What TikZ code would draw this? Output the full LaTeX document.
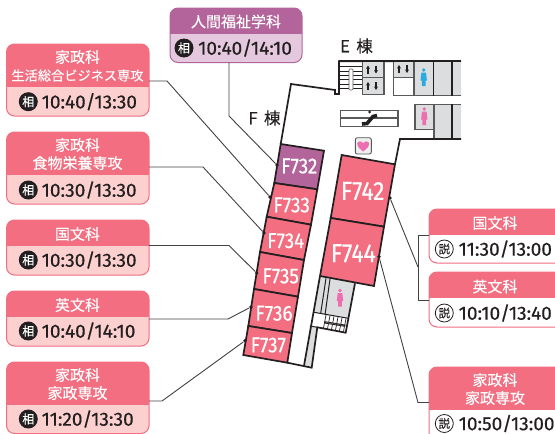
\documentclass[tikz,border=0pt]{standalone}
\usepackage{fontspec}
\usepackage{graphicx}
\setmainfont[FakeBold=0.5]{Fira Sans}
\newfontfamily\cjk[FakeBold=0.3]{Noto Sans CJK JP}
\usetikzlibrary{arrows.meta}
\definecolor{hdrpink}{HTML}{F26E80}
\definecolor{bodypink}{HTML}{FBD0CF}
\definecolor{edgepink}{HTML}{F58A98}
\definecolor{hdrplum}{HTML}{B3659B}
\definecolor{bodyplum}{HTML}{E4C8DD}
\definecolor{ink}{HTML}{231F20}
\definecolor{wallgrey}{HTML}{DCDDDE}
\definecolor{linegrey}{HTML}{58595B}
\definecolor{manblue}{HTML}{29ABE2}
\definecolor{womanpink}{HTML}{EE6FB0}
\tikzset{
 cardbox/.style={rounded corners=8pt,inner sep=0pt,outer sep=0pt,line width=1pt,draw=#1},
 title/.style={text=white,inner sep=0pt,font=\cjk\fontsize{15}{15}\selectfont},
 timetext/.style={text=ink,inner sep=0pt,anchor=west,font=\fontsize{19}{19}\selectfont},
 soubadge/.style={circle,fill=ink,text=white,inner sep=0pt,minimum size=19pt,font=\cjk\fontsize{12}{12}\selectfont},
 setsubadge/.style={circle,draw=ink,fill=white,line width=.8pt,text=ink,inner sep=0pt,minimum size=18pt,font=\cjk\fontsize{11.5}{12}\selectfont},
 link/.style={draw=linegrey!60!ink,line width=.9pt},
 tick/.style={circle,fill=ink,inner sep=0pt,minimum size=3.6pt},
 room/.style={draw=ink,line width=1.7pt,line join=miter,fill=hdrpink},
 wall/.style={draw=ink,line width=1.7pt,line join=miter},
 thinwall/.style={draw=linegrey,line width=1.1pt},
 grey/.style={fill=wallgrey},
 roomlabel/.style={text=white,inner sep=0pt,font=\fontsize{21.5}{22}\selectfont},
 biglabel/.style={text=white,inner sep=0pt,font=\fontsize{26}{26}\selectfont},
 wing/.style={text=ink,inner sep=0pt,font=\cjk\fontsize{16.5}{17}\selectfont},
 updown/.style={-{Stealth[length=3.5pt,width=4pt]},draw=ink,line width=1.1pt}
}
\newcommand\mkcard[8]{%
 \pgfmathsetmacro\cw{#4-#2}\pgfmathsetmacro\ch{#5-#3}%
 \node[cardbox=#7,fill=#8,minimum width=\cw pt,minimum height=\ch pt,anchor=north west] (#1) at (#2,#3) {};%
 \begin{scope}
 \clip[rounded corners=8pt] (#2,#3) rectangle (#4,#5);
 \fill[#7] (#2,#3) rectangle (#4,#6);
 \end{scope}}
\newcommand\tm[1]{\scalebox{1.0}[1]{#1}}
\newcommand\rl[1]{\scalebox{0.88}[1]{#1}}
\newcommand\person[3]{% x,y,colour
 \fill[#3] (#1,#2-7.5) circle (1.9);
 \fill[#3] (#1-2.3,#2-5) -- (#1+2.3,#2-5) -- (#1+3.2,#2+3) -- (#1+1.9,#2+3) -- (#1+1.9,#2+8.5) -- (#1-1.9,#2+8.5) -- (#1-1.9,#2+3) -- (#1-3.2,#2+3) -- cycle;}
\begin{document}
\begin{tikzpicture}[x=1pt,y=-1pt]
\useasboundingbox (0,0) rectangle (555,434);
\clip (0,0) rectangle (555,434);
\fill[white] (0,0) rectangle (555,434);
% --- plan: outer walls
\draw[wall] (280.7,144) -- (291,84) -- (335,90) -- (335,94) -- (339,94) -- (339,61.3) -- (461,61.3);
\draw[wall] (395,164.3) -- (400,139) -- (461,139);
% stairs E
\foreach \yy in {66,71,75,79,84,88}{\draw[line width=.9pt,draw=ink] (339,\yy) -- (362,\yy);}
\fill[white,draw=linegrey,line width=.7pt,rounded corners=1pt] (349,69) rectangle (353,90);
% elevators
\draw[thinwall,grey] (362.7,61.7) rectangle (384,77.7);
\draw[thinwall,grey] (362.7,77.7) rectangle (384,94.3);
\draw[thinwall,grey] (393.3,61.7) rectangle (414,77.7);
\draw[thinwall,fill=white] (393.3,77.7) rectangle (414,95.7);
\foreach \xa/\ya in {368/69.5,368/86,399/69}{
 \draw[updown] (\xa,\ya+4) -- (\xa,\ya-4);
 \draw[updown] (\xa+8,\ya-4) -- (\xa+8,\ya+4);}
% toilets E
\draw[thinwall,grey] (414,61.7) rectangle (433.5,95.7);
\person{423.7}{77.5}{manblue}
\draw[thinwall,grey] (433.5,61.7) rectangle (451.7,95.7);
\fill[wallgrey] (451.7,61.7) rectangle (461,95.7);
\draw[thinwall] (461,95.7) -- (451.7,95.7);
\draw[thinwall,grey] (415,104.3) rectangle (434,129.3);
\person{424.3}{116.5}{womanpink}
\draw[thinwall,grey] (434,104.3) rectangle (451.7,139);
\fill[wallgrey] (451.7,104.3) rectangle (461,139);
\draw[thinwall] (451.7,104.3) -- (461,104.3);
\draw[wall] (339,61.3) -- (461,61.3);
\draw[wall] (400,139) -- (461,139);
\draw[line width=1.6pt,draw=ink] (433.5,61.7) -- (433.5,95.7) (451.7,61.7) -- (451.7,95.7) (451.7,104.3) -- (451.7,139);
% escalator
\draw[thinwall,fill=white] (340.7,110.3) rectangle (398,126.3);
\draw[thinwall] (340.7,118) -- (398,118);
\draw[line width=3.6pt,draw=ink] (362,124) -- (367,123.5) -- (373,116.5) -- (377,115.5);
\fill[ink] (369.5,112) circle (1.5);
% toilet sign
\draw[line width=.9pt,draw=linegrey,fill=wallgrey!50,rounded corners=2pt] (355.3,137.7) rectangle (371.3,154);
\fill[womanpink] (363.2,151.5) .. controls (358,147.5) and (356.8,145.5) .. (357.2,143.5) .. controls (357.7,141) and (361.8,140.5) .. (363.2,143.3) .. controls (364.6,140.5) and (368.7,141) .. (369.2,143.5) .. controls (369.6,145.5) and (368.4,147.5) .. (363.2,151.5) -- cycle;
% lower service block
\fill[wallgrey] (314,312.3) -- (348.3,318.3) -- (355,283.3) -- (320,276) -- cycle;
\fill[white] (314,312.3) -- (348.3,318.3) -- (345.7,332.7) -- (310,326) -- cycle;
\fill[wallgrey] (310,326) -- (317.3,327.3) -- (311.7,367.7) -- (304,365.7) -- cycle;
\person{340}{298}{womanpink}
\draw[draw=ink,line width=1pt] (326,278.3) -- (320.7,313.3) (330,279) -- (325,315);
\draw[draw=ink,line width=1pt] (314,312.3) -- (348.3,318.3) (310,326) -- (317.3,327.3);
\foreach \t in {0,.2,.4,.6,.8,1}{
 \draw[line width=.7pt,draw=ink] ({326+\t*20},{315+\t*3.5}) -- ({323.5+\t*20},{328+\t*3.5});}
\draw[line width=.9pt,draw=ink,fill=white] (325,321.7) -- (345,325) -- (344.7,326.3) -- (324.7,323) -- cycle;
\draw[wall] (320,276) -- (304,365.7);
\draw[wall] (355,283.3) -- (345.7,332.7) -- (317.3,327.3) -- (311.7,367.7) -- (287.3,362.7);
% rooms
\draw[room,fill=hdrplum] (280.7,144) -- (324,150.7) -- (317.3,189.3) -- (274.3,183) -- cycle;
\draw[room] (274.3,183) -- (317.3,189.3) -- (311,224.7) -- (266.7,216.7) -- cycle;
\draw[room] (266.7,216.7) -- (311,224.7) -- (304,260) -- (260,252) -- cycle;
\draw[room] (260,252) -- (304,260) -- (298,296.7) -- (254,289) -- cycle;
\draw[room] (254,289) -- (298,296.7) -- (292,333) -- (248.3,326) -- cycle;
\draw[room] (248.3,326) -- (292,333) -- (287.3,362.7) -- (243.3,355) -- cycle;
\draw[room] (341.7,155) -- (395,164.3) -- (384,226.7) -- (330.7,218) -- cycle;
\draw[room] (330.7,218) -- (384,226.7) -- (374,286) -- (320,276) -- cycle;
\node[roomlabel] (r732) at (299.3,166) {\rl{F732}};
\node[roomlabel] (r733) at (291.7,205) {\rl{F733}};
\node[roomlabel] (r734) at (285.7,240.7) {\rl{F734}};
\node[roomlabel] (r735) at (280.7,276) {\rl{F735}};
\node[roomlabel] (r736) at (274,313.3) {\rl{F736}};
\node[roomlabel] (r737) at (268.3,345) {\rl{F737}};
\node[biglabel] (r742) at (362.7,191) {\rl{F742}};
\node[biglabel] (r744) at (353.3,253.3) {\rl{F744}};
\node[wing] (wE) at (356.5,46) {E\, 棟};
\node[wing] (wF) at (264.5,118) {F\, 棟};
% cards
\mkcard{kTop}{170}{8}{302}{62.5}{33.5}{hdrplum}{bodyplum}
\mkcard{k1}{6.5}{44}{149}{116}{87}{hdrpink}{bodypink}
\mkcard{k2}{6.5}{132}{149}{204}{175}{hdrpink}{bodypink}
\mkcard{k3}{6.5}{220}{149}{275}{245.7}{hdrpink}{bodypink}
\mkcard{k4}{6.5}{291}{149}{346}{317}{hdrpink}{bodypink}
\mkcard{k5}{6.5}{362}{149}{433.5}{405}{hdrpink}{bodypink}
\mkcard{rA}{429}{209}{575}{263}{234.5}{hdrpink}{white}
\mkcard{rB}{429}{272}{575}{327}{297.5}{hdrpink}{white}
\mkcard{rC}{429}{367}{575}{450}{410}{hdrpink}{white}
% titles
\node[title] (tTop) at (236,21.5) {人間福祉学科};
\node[title] (t1a) at (77.5,57) {家政科};
\node[title,font=\cjk\fontsize{13.2}{14}\selectfont] (t1b) at (77.5,75.5) {生活総合ビジネス専攻};
\node[title] (t2a) at (77.5,145) {家政科};
\node[title] (t2b) at (77.5,163) {食物栄養専攻};
\node[title] (t3) at (77.5,234) {国文科};
\node[title] (t4) at (77.5,305) {英文科};
\node[title] (t5a) at (77.5,375) {家政科};
\node[title] (t5b) at (77.5,393) {家政専攻};
\node[title] (tA) at (495,223) {国文科};
\node[title] (tB) at (495,286.5) {英文科};
\node[title] (tCa) at (495,380) {家政科};
\node[title] (tCb) at (495,398) {家政専攻};
% times
\node[soubadge] (bTop) at (184,48) {相}; \node[timetext] (mTop) at (198,48) {\tm{10:40/14:10}};
\node[soubadge] (b1) at (28.3,101.7) {相}; \node[timetext] (m1) at (41.5,101.7) {\tm{10:40/13:30}};
\node[soubadge] (b2) at (28.3,190) {相}; \node[timetext] (m2) at (41.5,190) {\tm{10:30/13:30}};
\node[soubadge] (b3) at (28.3,260) {相}; \node[timetext] (m3) at (41.5,260) {\tm{10:30/13:30}};
\node[soubadge] (b4) at (28.3,331) {相}; \node[timetext] (m4) at (41.5,331) {\tm{10:40/14:10}};
\node[soubadge] (b5) at (28.3,419) {相}; \node[timetext] (m5) at (41.5,419) {\tm{11:20/13:30}};
\node[setsubadge] (bA) at (444.3,249) {説}; \node[timetext] (mA) at (458.5,249) {\tm{11:30/13:00}};
\node[setsubadge] (bB) at (444.3,313) {説}; \node[timetext] (mB) at (458.5,313) {\tm{10:10/13:40}};
\node[setsubadge] (bC) at (444.3,423.5) {説}; \node[timetext] (mC) at (458.5,423.5) {\tm{10:50/13:00}};
% connectors
\node[tick] (dTop) at (277,165) {};
\node[tick] (d1) at (270,197) {};
\node[tick] (d2) at (264,233) {};
\node[tick] (d3) at (256.7,273) {};
\node[tick] (d4) at (251,307) {};
\node[tick] (d5) at (245,340.7) {};
\node[tick] (dA) at (390,198) {};
\node[tick] (dC) at (379,256.7) {};
\coordinate (jA) at (418,267);
\coordinate (jC) at (418,402.5);
\draw[link] (kTop.south -| 229,0) -- (229,116) -- (dTop);
\draw[link] (149,81) -- (167,81) -- (d1);
\draw[link] (149,167) -- (203,167) -- (d2);
\draw[link] (149,245.5) -- (229,245.5) -- (d3);
\draw[link] (149,319) -- (228,319) -- (d4);
\draw[link] (149,401) -- (162,401) -- (d5);
\draw[link] (dA) -- (jA);
\draw[link] (429,235) -- (418,235) -- (418,300.7) -- (429,300.7);
\draw[link] (dC) -- (jC) -- (429,402.5);
\end{tikzpicture}
\end{document}
